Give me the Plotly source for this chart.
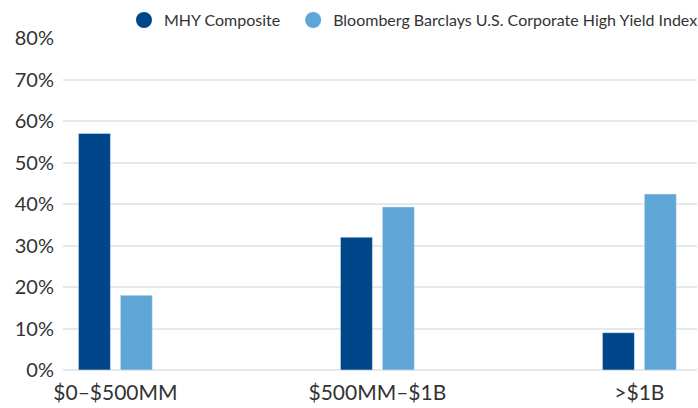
import plotly.graph_objects as go

categories = ["$0–$500MM", "$500MM–$1B", ">$1B"]
mhy_composite = [57, 32, 9]
bbg_hy_index = [18, 39.3, 42.4]
series_names = ["MHY Composite", "Bloomberg Barclays U.S. Corporate High Yield Index"]
y_ticks = [0, 10, 20, 30, 40, 50, 60, 70, 80]
y_tick_labels = [f"{v}%" for v in y_ticks]

DARK = "#00468b"
LIGHT = "#5fa6d6"
TEXT = "#333333"
GRID = "#e3eaee"

x_idx = list(range(len(categories)))

fig = go.Figure()
fig.add_trace(go.Bar(x=x_idx, y=mhy_composite, width=0.122, offset=-0.141,
                     marker_color=DARK, showlegend=False, name=series_names[0]))
fig.add_trace(go.Bar(x=x_idx, y=bbg_hy_index, width=0.122, offset=0.019,
                     marker_color=LIGHT, showlegend=False, name=series_names[1]))
# legend entries with circle symbols, each in its own legend box
for nm, col, lg in zip(series_names, [DARK, LIGHT], ["legend", "legend2"]):
    fig.add_trace(go.Scatter(x=[None], y=[None], mode="markers", name=nm, legend=lg,
                             marker=dict(color=col, size=16, symbol="circle")))

legend_common = dict(orientation="h", yanchor="middle", y=1.054, xanchor="left",
                     font=dict(size=16, color=TEXT), bgcolor="rgba(0,0,0,0)",
                     itemwidth=30)

fig.update_layout(
    width=698, height=408,
    margin=dict(l=63, r=1, t=38, b=38, autoexpand=False),
    paper_bgcolor="white", plot_bgcolor="white",
    font=dict(family="Lato, sans-serif", color=TEXT, size=18),
    barmode="overlay",
    legend=dict(x=0.0962, **legend_common),
    legend2=dict(x=0.363, **legend_common),
    xaxis=dict(tickmode="array", tickvals=x_idx, ticktext=categories,
               range=[-0.2, 2.22], showgrid=False, zeroline=False, showline=False,
               ticks="", automargin=False, ticklabelstandoff=8,
               tickfont=dict(size=21, color=TEXT)),
    yaxis=dict(range=[0, 80], tickmode="array", tickvals=y_ticks, ticktext=y_tick_labels,
               showgrid=True, gridcolor=GRID, gridwidth=2, zeroline=True,
               zerolinecolor=GRID, zerolinewidth=2, showline=False, ticks="",
               ticklabelstandoff=8, automargin=False,
               tickfont=dict(size=20, color=TEXT)),
)

fig.write_html("out.html", config={"displayModeBar": False},
               post_script="document.body.style.margin='0';")
